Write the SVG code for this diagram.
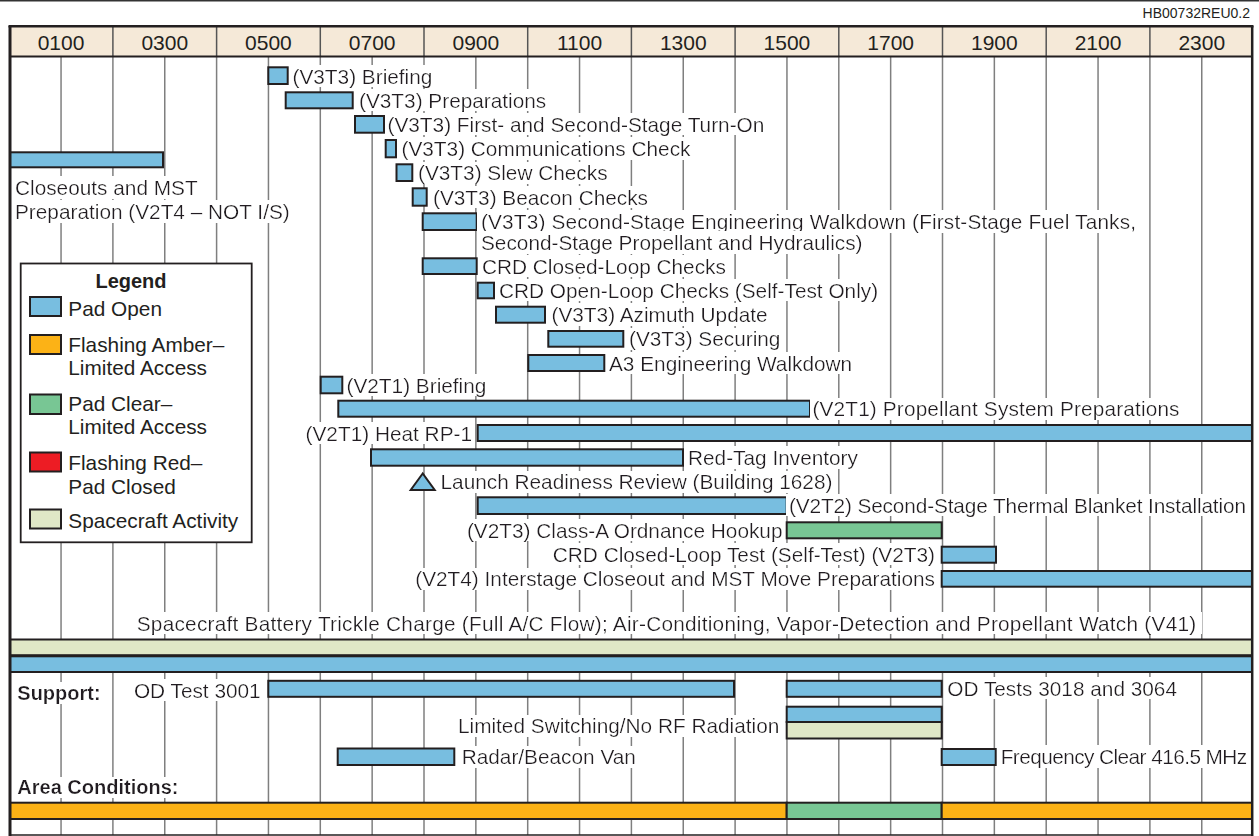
<svg xmlns="http://www.w3.org/2000/svg" width="1259" height="836" viewBox="0 0 1259 836">
<style>
text{font-family:"Liberation Sans",Arial,Helvetica,sans-serif;fill:#231f20;font-size:20.8px}
.lb{filter:url(#bg)}
.e{text-anchor:end}
.m{text-anchor:middle}
.b{font-weight:bold;font-size:20px}
.hd{font-size:21px}
.bar{stroke:#231f20;stroke-width:2}
.blue{fill:#78bee0}
.amb{fill:#fcb216}
.grn{fill:#78c694}
.red{fill:#ed1c24}
.sc{fill:#e0e7c6}
.g line{stroke:#7f7f7f;stroke-width:1.5}
</style>
<defs>
<filter id="bg" x="-0.02" y="-0.1" width="1.04" height="1.2" primitiveUnits="objectBoundingBox">
<feFlood flood-color="#ffffff" x="-0.005" y="0.04" width="1.01" height="0.92" result="f"/>
<feMerge><feMergeNode in="f"/><feMergeNode in="SourceGraphic"/></feMerge>
</filter>
</defs>
<rect width="1259" height="836" fill="#fff"/>
<line x1="0" y1="0.75" x2="1259" y2="0.75" stroke="#333" stroke-width="1.5"/>
<text x="1250" y="17.5" class="e" style="font-size:14px">HB00732REU0.2</text>

<g id="grid" class="g">
<line x1="61.05" y1="57" x2="61.05" y2="835"/>
<line x1="112.9" y1="57" x2="112.9" y2="835"/>
<line x1="164.75" y1="57" x2="164.75" y2="835"/>
<line x1="216.6" y1="57" x2="216.6" y2="835"/>
<line x1="268.45" y1="57" x2="268.45" y2="835"/>
<line x1="320.3" y1="57" x2="320.3" y2="835"/>
<line x1="372.15" y1="57" x2="372.15" y2="835"/>
<line x1="424" y1="57" x2="424" y2="835"/>
<line x1="475.85" y1="57" x2="475.85" y2="835"/>
<line x1="527.7" y1="57" x2="527.7" y2="835"/>
<line x1="579.55" y1="57" x2="579.55" y2="835"/>
<line x1="631.4" y1="57" x2="631.4" y2="835"/>
<line x1="683.25" y1="57" x2="683.25" y2="835"/>
<line x1="735.1" y1="57" x2="735.1" y2="835"/>
<line x1="786.95" y1="57" x2="786.95" y2="835"/>
<line x1="838.8" y1="57" x2="838.8" y2="835"/>
<line x1="890.65" y1="57" x2="890.65" y2="835"/>
<line x1="942.5" y1="57" x2="942.5" y2="835"/>
<line x1="994.35" y1="57" x2="994.35" y2="835"/>
<line x1="1046.2" y1="57" x2="1046.2" y2="835"/>
<line x1="1098.05" y1="57" x2="1098.05" y2="835"/>
<line x1="1149.9" y1="57" x2="1149.9" y2="835"/>
<line x1="1201.75" y1="57" x2="1201.75" y2="835"/>
</g>

<g id="header">
<rect x="10" y="26" width="1242" height="30.5" fill="#f5e9d8"/>
<g stroke="#555" stroke-width="1.5">
<line x1="112.9" y1="26" x2="112.9" y2="57"/>
<line x1="216.6" y1="26" x2="216.6" y2="57"/>
<line x1="320.3" y1="26" x2="320.3" y2="57"/>
<line x1="424" y1="26" x2="424" y2="57"/>
<line x1="527.7" y1="26" x2="527.7" y2="57"/>
<line x1="631.4" y1="26" x2="631.4" y2="57"/>
<line x1="735.1" y1="26" x2="735.1" y2="57"/>
<line x1="838.8" y1="26" x2="838.8" y2="57"/>
<line x1="942.5" y1="26" x2="942.5" y2="57"/>
<line x1="1046.2" y1="26" x2="1046.2" y2="57"/>
<line x1="1149.9" y1="26" x2="1149.9" y2="57"/>
</g>
<line x1="10" y1="56.5" x2="1252" y2="56.5" stroke="#231f20" stroke-width="1.8"/>
<line x1="8.5" y1="26.2" x2="1253.5" y2="26.2" stroke="#231f20" stroke-width="2.5"/>
<text class="hd m" x="61.05" y="50">0100</text>
<text class="hd m" x="164.75" y="50">0300</text>
<text class="hd m" x="268.45" y="50">0500</text>
<text class="hd m" x="372.15" y="50">0700</text>
<text class="hd m" x="475.85" y="50">0900</text>
<text class="hd m" x="579.55" y="50">1100</text>
<text class="hd m" x="683.25" y="50">1300</text>
<text class="hd m" x="786.95" y="50">1500</text>
<text class="hd m" x="890.65" y="50">1700</text>
<text class="hd m" x="994.35" y="50">1900</text>
<text class="hd m" x="1098.05" y="50">2100</text>
<text class="hd m" x="1201.75" y="50">2300</text>
</g>

<g id="closeouts">
<rect class="bar blue" x="10" y="152.3" width="153" height="15"/>
<text class="lb" x="15" y="195">Closeouts and MST</text>
<text class="lb" x="15" y="219">Preparation (V2T4 – NOT I/S)</text>
</g>

<g id="v3t3-briefing">
<rect class="bar blue" x="268.3" y="67.3" width="19.4" height="16.7"/>
<text class="lb" x="292.5" y="83.5">(V3T3) Briefing</text>
</g>
<g id="v3t3-preparations">
<rect class="bar blue" x="285.7" y="92.3" width="67" height="16"/>
<text class="lb" x="359" y="107.7">(V3T3) Preparations</text>
</g>
<g id="v3t3-turnon">
<rect class="bar blue" x="355" y="116" width="29" height="16.7"/>
<text class="lb" x="387.5" y="131.8">(V3T3) First- and Second-Stage Turn-On</text>
</g>
<g id="v3t3-comms">
<rect class="bar blue" x="385.7" y="140" width="10.3" height="17.3"/>
<text class="lb" x="401.5" y="156">(V3T3) Communications Check</text>
</g>
<g id="v3t3-slew">
<rect class="bar blue" x="396.5" y="164.3" width="15.8" height="16.7"/>
<text class="lb" x="418" y="180.2">(V3T3) Slew Checks</text>
</g>
<g id="v3t3-beacon">
<rect class="bar blue" x="412.7" y="188.3" width="14" height="17.4"/>
<text class="lb" x="433" y="204.5">(V3T3) Beacon Checks</text>
</g>
<g id="v3t3-walkdown">
<rect class="bar blue" x="422.7" y="213.3" width="54" height="16.7"/>
<text class="lb" x="481" y="229" textLength="655" lengthAdjust="spacing">(V3T3) Second-Stage Engineering Walkdown (First-Stage Fuel Tanks,</text>
<text class="lb" x="481" y="250">Second-Stage Propellant and Hydraulics)</text>
</g>
<g id="crd-closed-loop">
<rect class="bar blue" x="422.7" y="258.3" width="54" height="15.7"/>
<text class="lb" x="482" y="273.5">CRD Closed-Loop Checks</text>
</g>
<g id="crd-open-loop">
<rect class="bar blue" x="477.7" y="282.7" width="16.3" height="15.6"/>
<text class="lb" x="499" y="297.7">CRD Open-Loop Checks (Self-Test Only)</text>
</g>
<g id="v3t3-azimuth">
<rect class="bar blue" x="496" y="306.7" width="49" height="16"/>
<text class="lb" x="551.5" y="322">(V3T3) Azimuth Update</text>
</g>
<g id="v3t3-securing">
<rect class="bar blue" x="548.3" y="331" width="75" height="15.7"/>
<text class="lb" x="629" y="346.2">(V3T3) Securing</text>
</g>
<g id="a3-walkdown">
<rect class="bar blue" x="528.3" y="355" width="76" height="16"/>
<text class="lb" x="609" y="370.5">A3 Engineering Walkdown</text>
</g>
<g id="v2t1-briefing">
<rect class="bar blue" x="320.7" y="376.7" width="21.6" height="16.6"/>
<text class="lb" x="346.5" y="392.5">(V2T1) Briefing</text>
</g>
<g id="v2t1-propellant">
<rect class="bar blue" x="338.3" y="400.7" width="471.7" height="16"/>
<text class="lb" x="812.5" y="416.3" textLength="367" lengthAdjust="spacing">(V2T1) Propellant System Preparations</text>
</g>
<g id="v2t1-heat">
<rect class="bar blue" x="477.7" y="425" width="774.3" height="16"/>
<text class="lb e" x="472" y="440.5">(V2T1) Heat RP-1</text>
</g>
<g id="red-tag">
<rect class="bar blue" x="371" y="449.3" width="312" height="16.4"/>
<text class="lb" x="688" y="465">Red-Tag Inventory</text>
</g>
<g id="launch-readiness">
<polygon class="bar blue" points="422.7,473.5 410.7,490 434.7,490" stroke-linejoin="miter"/>
<text class="lb" x="440.5" y="489.3">Launch Readiness Review (Building 1628)</text>
</g>
<g id="v2t2-blanket">
<rect class="bar blue" x="477.7" y="497.3" width="309" height="16.7"/>
<text class="lb" x="789" y="512.8" textLength="457" lengthAdjust="spacing">(V2T2) Second-Stage Thermal Blanket Installation</text>
</g>
<g id="v2t3-ordnance">
<rect class="bar grn" x="786.7" y="522.3" width="155" height="16"/>
<text class="lb e" x="782.5" y="537.5">(V2T3) Class-A Ordnance Hookup</text>
</g>
<g id="crd-test">
<rect class="bar blue" x="941.7" y="546.7" width="54.3" height="16"/>
<text class="lb e" x="935" y="561.8">CRD Closed-Loop Test (Self-Test) (V2T3)</text>
</g>
<g id="v2t4-interstage">
<rect class="bar blue" x="941.7" y="571" width="310.3" height="15.7"/>
<text class="lb e" x="935" y="586.2">(V2T4) Interstage Closeout and MST Move Preparations</text>
</g>
<g id="spacecraft-battery">
<text class="lb" x="136.7" y="630.7" textLength="1059.5" lengthAdjust="spacing">Spacecraft Battery Trickle Charge (Full A/C Flow); Air-Conditioning, Vapor-Detection and Propellant Watch (V41)</text>
<rect class="bar sc" x="10" y="639.5" width="1242" height="15.7"/>
<rect class="bar blue" x="10" y="656.3" width="1242" height="15.7"/>
</g>

<g id="support">
<text class="b lb" x="17.3" y="700">Support:</text>
</g>
<g id="od-3001">
<rect class="bar blue" x="268.3" y="680.8" width="465.7" height="16"/>
<text class="lb e" x="260.7" y="697.5">OD Test 3001</text>
</g>
<g id="od-3018">
<rect class="bar blue" x="786.7" y="680.8" width="155" height="16"/>
<text class="lb" x="947.3" y="695.7">OD Tests 3018 and 3064</text>
</g>
<g id="limited-switching">
<rect class="bar blue" x="786.7" y="706.7" width="155" height="15.3"/>
<rect class="bar sc" x="786.7" y="722" width="155" height="16.5"/>
<text class="lb e" x="779.3" y="733.3">Limited Switching/No RF Radiation</text>
</g>
<g id="radar-van">
<rect class="bar blue" x="337.7" y="748.5" width="116.6" height="16.5"/>
<text class="lb" x="461.7" y="764.3">Radar/Beacon Van</text>
</g>
<g id="frequency-clear">
<rect class="bar blue" x="941.7" y="749" width="54" height="16"/>
<text class="lb" x="1000.7" y="764" textLength="246.5" lengthAdjust="spacing">Frequency Clear 416.5 MHz</text>
</g>
<g id="area-conditions">
<text class="b lb" x="17.3" y="794.3">Area Conditions:</text>
<rect class="bar amb" x="10" y="802.7" width="776.7" height="16.3"/>
<rect class="bar grn" x="786.7" y="802.7" width="155" height="16.3"/>
<rect class="bar amb" x="941.7" y="802.7" width="310.3" height="16.3"/>
</g>

<g id="legend">
<rect x="20.7" y="263.5" width="231" height="278.8" fill="#fff" stroke="#231f20" stroke-width="1.8"/>
<text class="b m" x="131" y="287.7">Legend</text>
<rect class="bar blue" x="30" y="297" width="31" height="19"/>
<text x="68.3" y="315.7">Pad Open</text>
<rect class="bar amb" x="30" y="335" width="31" height="19"/>
<text x="68.3" y="351.7">Flashing Amber–</text>
<text x="68.3" y="375">Limited Access</text>
<rect class="bar grn" x="30" y="394.5" width="31" height="19.5"/>
<text x="68.3" y="411">Pad Clear–</text>
<text x="68.3" y="434.3">Limited Access</text>
<rect class="bar red" x="30" y="452.5" width="31" height="19"/>
<text x="68.3" y="470">Flashing Red–</text>
<text x="68.3" y="494.3">Pad Closed</text>
<rect class="bar sc" x="30" y="509.5" width="31" height="19"/>
<text x="68.3" y="527.7">Spacecraft Activity</text>
</g>

<g id="frame" stroke="#231f20" fill="none">
<line x1="10" y1="26" x2="10" y2="836" stroke-width="3"/>
<line x1="1252.2" y1="26" x2="1252.2" y2="836" stroke-width="2.5"/>
<line x1="10" y1="835" x2="1252" y2="835" stroke-width="1.5"/>
</g>
</svg>
